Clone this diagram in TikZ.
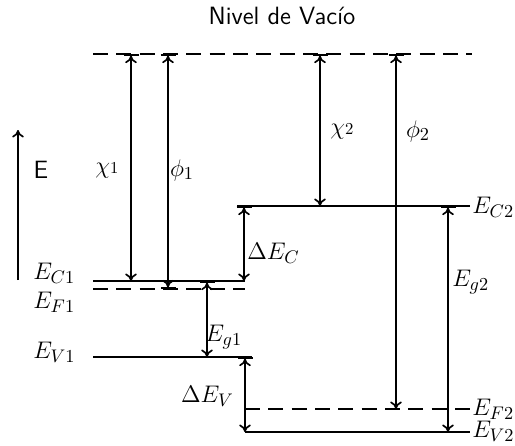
\documentclass[tikz,border=0pt]{standalone}
\usetikzlibrary{arrows.meta}
\begin{document}
\begin{tikzpicture}[x=0.6pt,y=-0.6pt,
  lvl/.style={line width=1.1pt},
  dlvl/.style={line width=1.1pt,dash pattern=on 9pt off 5pt},
  dimarr/.style={line width=1pt,{Bar[width=9pt]To[length=4.5pt,width=7pt]}-{To[length=4.5pt,width=7pt]}},
  dimarrbb/.style={line width=1pt,{Bar[width=9pt]To[length=4.5pt,width=7pt]}-{To[length=4.5pt,width=7pt]Bar[width=9pt]}},
  lab/.style={inner sep=0pt,font=\fontsize{15}{18}\selectfont},
  slab/.style={inner sep=0pt,font=\fontsize{15}{18}\selectfont\sffamily}]
\useasboundingbox (0,0) rectangle (515,445);
% level end points
\coordinate (vacL) at (93,54);  \coordinate (vacR) at (472,54);
\coordinate (ec1L) at (93,281); \coordinate (ec1R) at (245,281);
\coordinate (ef1L) at (93,289); \coordinate (ef1R) at (245,289);
\coordinate (ev1L) at (93,357); \coordinate (ev1R) at (252,357);
\coordinate (ec2L) at (237,206); \coordinate (ec2R) at (470,206);
\coordinate (ef2L) at (245,409); \coordinate (ef2R) at (470,409);
\coordinate (ev2L) at (245,432); \coordinate (ev2R) at (470,432);
% levels
\draw[dlvl] (vacL) -- (vacR);
\draw[lvl] (ec1L) -- (ec1R);
\draw[dlvl] (ef1L) -- (ef1R);
\draw[lvl] (ev1L) -- (ev1R);
\draw[lvl] (ec2L) -- (ec2R);
\draw[dlvl] (ef2L) -- (ef2R);
\draw[lvl] (ev2L) -- (ev2R);
% arrow end points
\coordinate (chi1T) at (131,54);  \coordinate (chi1B) at (131,281);
\coordinate (phi1T) at (168,54);  \coordinate (phi1B) at (168,289);
\coordinate (eg1T) at (207,281);  \coordinate (eg1B) at (207,357);
\coordinate (decT) at (244,206);  \coordinate (decB) at (244,281);
\coordinate (chi2T) at (320,54);  \coordinate (chi2B) at (320,206);
\coordinate (phi2T) at (396,54);  \coordinate (phi2B) at (396,409);
\coordinate (eg2T) at (448,206);  \coordinate (eg2B) at (448,432);
\coordinate (devT) at (245,357);  \coordinate (devB) at (245,432);
\coordinate (eaxB) at (18,280);   \coordinate (eaxT) at (18,130);
% arrows
\draw[dimarr] (chi1T) -- (chi1B);
\draw[dimarrbb] (phi1T) -- (phi1B);
\draw[dimarr] (eg1T) -- (eg1B);
\draw[dimarr] (decT) -- (decB);
\draw[dimarr] (chi2T) -- (chi2B);
\draw[dimarr] (phi2T) -- (phi2B);
\draw[dimarr] (eg2T) -- (eg2B);
\draw[dimarr] (devT) -- (devB);
\draw[line width=1pt,-{To[length=4.5pt,width=7pt]}] (eaxB) -- (eaxT);
% labels
\node[slab] (title) at (282,16) {Nivel de Vacío};
\node[slab] (elab) at (41,170) {E};
\node[lab] (chi1) at (107,170) {$\chi${\normalsize 1}};
\node[lab] (phi1) at (182,170) {$\phi_1$};
\node[lab] (chi2) at (342,131) {$\chi${\normalsize 2}};
\node[lab] (phi2) at (418,131) {$\phi_2$};
\node[lab,anchor=west] (ec1) at (33,273) {$E_{C1}$};
\node[lab,anchor=west] (ef1) at (33,302) {$E_{F1}$};
\node[lab,anchor=west] (ev1) at (33,352) {$E_{V1}$};
\node[lab,anchor=west] (eg1) at (205,337) {$E_{g1}$};
\node[lab,anchor=west] (dec) at (247,253) {$\Delta E_C$};
\node[lab,anchor=west] (eg2) at (452,282) {$E_{g2}$};
\node[lab,anchor=east] (dev) at (234,396) {$\Delta E_V$};
\node[lab,anchor=west] (ec2) at (472,207) {$E_{C2}$};
\node[lab,anchor=west] (ef2) at (472,409) {$E_{F2}$};
\node[lab,anchor=west] (ev2) at (472,431) {$E_{V2}$};
\end{tikzpicture}
\end{document}
